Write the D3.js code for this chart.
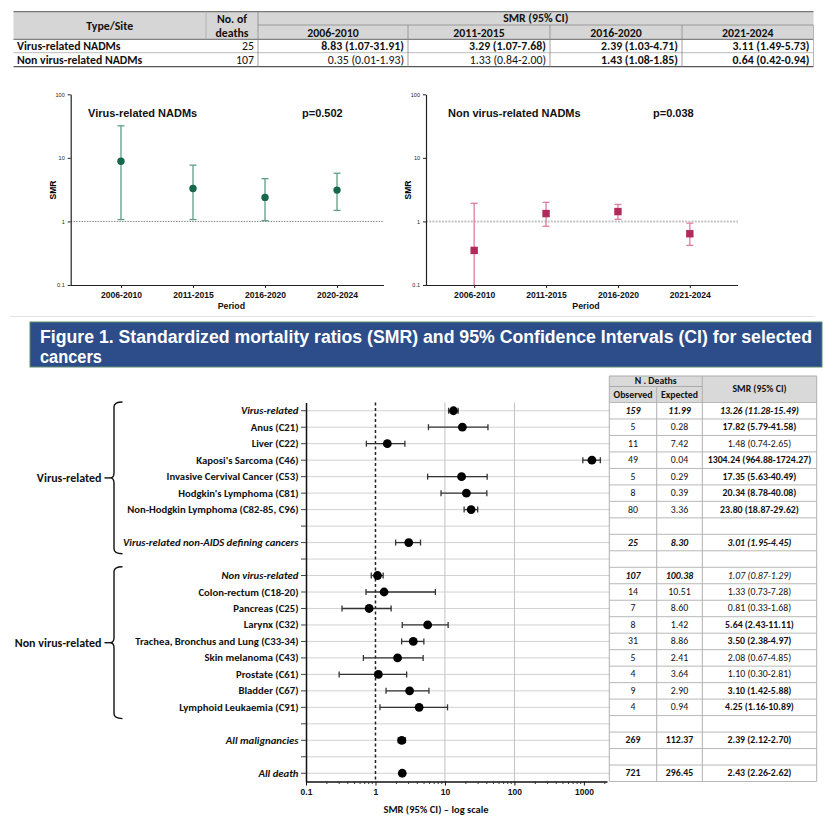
<!DOCTYPE html>
<html><head><meta charset="utf-8">
<script src="https://cdn.jsdelivr.net/npm/d3@7"></script>
<style>body{margin:0;background:#fff} svg{display:block}</style>
</head><body>
<svg id="c" width="840" height="820"></svg>
<script>
// ---------- DATA ----------
// Top table
const tablePeriods = ["2006-2010","2011-2015","2016-2020","2021-2024"];
const tableTypes = ["Virus-related NADMs","Non virus-related NADMs"];
const tableDeaths = [25, 107];
const tableSMRVirus = ["8.83 (1.07-31.91)","3.29 (1.07-7.68)","2.39 (1.03-4.71)","3.11 (1.49-5.73)"];
const tableSMRNonVirus = ["0.35 (0.01-1.93)","1.33 (0.84-2.00)","1.43 (1.08-1.85)","0.64 (0.42-0.94)"];
const tableBoldVirus = [true,true,true,true];
const tableBoldNonVirus = [false,false,true,true];

// Small chart: virus-related
const vrPeriods = ["2006-2010","2011-2015","2016-2020","2020-2024"];
const vrSMR = [8.83,3.29,2.39,3.11];
const vrLow = [1.07,1.07,1.03,1.49];
const vrHigh = [31.91,7.68,4.71,5.73];
// Small chart: non virus-related
const nvrPeriods = ["2006-2010","2011-2015","2016-2020","2021-2024"];
const nvrSMR = [0.35,1.33,1.43,0.64];
const nvrLow = [0.01,0.84,1.08,0.42];
const nvrHigh = [1.93,2.00,1.85,0.94];
const smallYTicks = [0.1,1,10,100];

// Forest plot
const forestLabels = ["Virus-related","Anus (C21)","Liver (C22)","Kaposi's Sarcoma (C46)","Invasive Cervival Cancer (C53)","Hodgkin's Lymphoma (C81)","Non-Hodgkin Lymphoma (C82-85, C96)","","Virus-related non-AIDS defining cancers","","Non virus-related","Colon-rectum (C18-20)","Pancreas (C25)","Larynx (C32)","Trachea, Bronchus and Lung (C33-34)","Skin melanoma (C43)","Prostate (C61)","Bladder (C67)","Lymphoid Leukaemia (C91)","","All malignancies","","All death"];
const forestItalic = [1,0,0,0,0,0,0,0,1,0,1,0,0,0,0,0,0,0,0,0,1,0,1];
const forestSMR  = [13.26,17.82,1.48,1304.24,17.35,20.34,23.80,null,3.01,null,1.07,1.33,0.81,5.64,3.50,2.08,1.10,3.10,4.25,null,2.39,null,2.43];
const forestLow  = [11.28,5.79,0.74,964.88,5.63,8.78,18.87,null,1.95,null,0.87,0.73,0.33,2.43,2.38,0.67,0.30,1.42,1.16,null,2.12,null,2.26];
const forestHigh = [15.49,41.58,2.65,1724.27,40.49,40.08,29.62,null,4.45,null,1.29,7.28,1.68,11.11,4.97,4.85,2.81,5.88,10.89,null,2.70,null,2.62];
const forestObserved = ["159","5","11","49","5","8","80","","25","","107","14","7","8","31","5","4","9","4","","269","","721"];
const forestExpected = ["11.99","0.28","7.42","0.04","0.29","0.39","3.36","","8.30","","100.38","10.51","8.60","1.42","8.86","2.41","3.64","2.90","0.94","","112.37","","296.45"];
const forestCI = ["13.26 (11.28-15.49)","17.82 (5.79-41.58)","1.48 (0.74-2.65)","1304.24 (964.88-1724.27)","17.35 (5.63-40.49)","20.34 (8.78-40.08)","23.80 (18.87-29.62)","","3.01 (1.95-4.45)","","1.07 (0.87-1.29)","1.33 (0.73-7.28)","0.81 (0.33-1.68)","5.64 (2.43-11.11)","3.50 (2.38-4.97)","2.08 (0.67-4.85)","1.10 (0.30-2.81)","3.10 (1.42-5.88)","4.25 (1.16-10.89)","","2.39 (2.12-2.70)","","2.43 (2.26-2.62)"];
// cell styles: "bi" bold italic, "b" bold, "i" italic, "n" normal
const forestCountStyle = ["bi","n","n","n","n","n","n","n","bi","n","bi","n","n","n","n","n","n","n","n","n","b","n","b"];
const forestSMRStyle   = ["bi","b","n","b","b","b","b","n","bi","n","i","n","n","b","b","n","n","b","b","n","b","n","b"];
const forestXTicks = [0.1,1,10,100,1000];
const groupNames = ["Virus-related","Non virus-related"];
const groupStart = [0,10];
const groupEnd = [8,18];

// ---------- DRAW ----------
const svg = d3.select("#c");
const CAL = "Carlito, Lato, 'Open Sans', sans-serif";
const ARI = "'Liberation Sans', Arial, sans-serif";
const NAR = "'Liberation Sans Narrow', 'Arial Narrow', 'Liberation Sans', Arial, sans-serif";

function line(g,x1,y1,x2,y2,stroke,w,dash){
  const l=g.append("line").attr("x1",x1).attr("y1",y1).attr("x2",x2).attr("y2",y2)
   .attr("stroke",stroke).attr("stroke-width",w);
  if(dash) l.attr("stroke-dasharray",dash);
  return l;
}
function txt(g,x,y,s,opt){
  opt=opt||{};
  return g.append("text").attr("x",x).attr("y",y).text(s)
   .attr("font-family",opt.family||CAL).attr("font-size",opt.size||10)
   .attr("font-weight",opt.bold?"bold":"normal")
   .attr("font-style",opt.italic?"italic":"normal")
   .attr("text-anchor",opt.anchor||"start")
   .attr("dominant-baseline","central")
   .attr("fill",opt.fill||"#111");
}

// ---- Top table ----
(function(){
  const g=svg.append("g");
  const tX=[13.5,206,258,408,550,682,813.5];
  const tY=[11.7,25,39.3,52.7,66.7];
  const fs=11.8;
  g.append("rect").attr("x",tX[0]).attr("y",tY[0]).attr("width",tX[6]-tX[0]).attr("height",tY[2]-tY[0]).attr("fill","#d6d6d6");
  line(g,tX[0],tY[0],tX[6],tY[0],"#777",1.2);
  line(g,tX[2],tY[1],tX[6],tY[1],"#8a8a8a",0.8);
  line(g,tX[0],tY[2],tX[6],tY[2],"#666",1);
  line(g,tX[0],tY[3],tX[6],tY[3],"#aaa",0.8);
  line(g,tX[0],tY[4],tX[6],tY[4],"#555",1.3);
  line(g,tX[1],tY[0],tX[1],tY[2],"#aaa",0.8);
  line(g,tX[2],tY[0],tX[2],tY[4],"#888",0.8);
  [3,4,5].forEach(i=>line(g,tX[i],tY[1],tX[i],tY[4],"#888",0.8));
  line(g,tX[6],tY[1],tX[6],tY[4],"#aaa",0.8);
  txt(g,(tX[0]+tX[1])/2,26,"Type/Site",{bold:true,size:fs,anchor:"middle"});
  txt(g,(tX[1]+tX[2])/2,19.3,"No. of",{bold:true,size:fs,anchor:"middle"});
  txt(g,(tX[1]+tX[2])/2,33,"deaths",{bold:true,size:fs,anchor:"middle"});
  txt(g,(tX[2]+tX[6])/2,18.3,"SMR (95% CI)",{bold:true,size:fs,anchor:"middle"});
  tablePeriods.forEach((p,i)=>txt(g,(tX[3+i-1]+tX[3+i])/2,32.5,p,{bold:true,size:fs,anchor:"middle"}));
  const rowsSMR=[tableSMRVirus,tableSMRNonVirus], rowsBold=[tableBoldVirus,tableBoldNonVirus];
  const rc=[46,59.7];
  tableTypes.forEach((t,r)=>{
    txt(g,17,rc[r],t,{bold:true,size:fs});
    txt(g,tX[2]-4,rc[r],String(tableDeaths[r]),{size:fs,anchor:"end"});
    rowsSMR[r].forEach((s,i)=>txt(g,tX[3+i]-4,rc[r],s,{size:fs,anchor:"end",bold:rowsBold[r][i]}));
  });
})();

// ---- Small charts ----
function smallChart(o){
  const g=svg.append("g");
  const y=d3.scaleLog().domain([0.1,100]).range([285,94.3]);
  const x=d3.scalePoint().domain(o.cats).range(o.xr).padding(o.pad);
  line(g,o.ax,y(1),o.axEnd,y(1),o.refColor,o.refW,o.refDash);
  const ya=g.append("g").attr("transform",`translate(${o.ax},0)`)
    .call(d3.axisLeft(y).tickValues(smallYTicks).tickFormat(d=>d).tickSize(3).tickSizeOuter(0));
  ya.selectAll("text").attr("font-size",5.5).attr("font-family",ARI).attr("fill","#222");
  ya.select(".domain").attr("stroke","#222").attr("stroke-width",1.2);
  ya.selectAll(".tick line").attr("stroke","#222");
  const xa=g.append("g").attr("transform",`translate(0,285)`)
    .call(d3.axisBottom(x).tickSize(3).tickSizeOuter(0));
  xa.select(".domain").attr("d",`M${o.ax},0.5H${o.axEnd}`).attr("stroke","#222").attr("stroke-width",1.2);
  xa.selectAll(".tick line").attr("stroke","#222");
  xa.selectAll("text").attr("font-size",8.6).attr("font-family",ARI).attr("font-weight","bold").attr("fill","#111").attr("dy","0.85em");
  txt(g,(o.ax+o.axEnd)/2+4,306,"Period",{family:ARI,bold:true,size:8.8,anchor:"middle"});
  g.append("text").attr("transform",`translate(${o.ax-18},190) rotate(-90)`).text("SMR")
    .attr("font-family",ARI).attr("font-size",8.5).attr("font-weight","bold").attr("text-anchor","middle").attr("dominant-baseline","central");
  txt(g,o.titleX,113,o.title,{family:ARI,bold:true,size:11});
  txt(g,o.pX,113,o.p,{family:ARI,bold:true,size:11});
  o.cats.forEach((c,i)=>{
    const cx=x(c);
    const lo=Math.max(o.lo[i],0.1), hi=o.hi[i];
    line(g,cx,y(lo),cx,y(hi),o.barColor,1.3);
    line(g,cx-3.5,y(hi),cx+3.5,y(hi),o.barColor,1.3);
    if(o.lo[i]>=0.1) line(g,cx-3.5,y(lo),cx+3.5,y(lo),o.barColor,1.3);
    if(o.marker==="circle") g.append("circle").attr("cx",cx).attr("cy",y(o.smr[i])).attr("r",3.7).attr("fill",o.color);
    else g.append("rect").attr("x",cx-3.7).attr("y",y(o.smr[i])-3.7).attr("width",7.4).attr("height",7.4).attr("fill",o.color);
  });
}
smallChart({cats:vrPeriods,smr:vrSMR,lo:vrLow,hi:vrHigh,ax:70.7,axEnd:384,xr:[72,386],pad:0.68,
  title:"Virus-related NADMs",titleX:88,p:"p=0.502",pX:302,color:"#15694a",barColor:"#5f9f80",marker:"circle",
  refColor:"#777",refW:0.9,refDash:"1.5,1.2"});
smallChart({cats:nvrPeriods,smr:nvrSMR,lo:nvrLow,hi:nvrHigh,ax:426,axEnd:738,xr:[426,738],pad:0.67,
  title:"Non virus-related NADMs",titleX:448,p:"p=0.038",pX:653,color:"#b02a5c",barColor:"#e27aa0",marker:"square",
  refColor:"#c4c4c4",refW:2,refDash:"2,1.2"});

// ---- separator & banner ----
line(svg,10,316.5,815,316.5,"#e2e2e2",1);
svg.append("rect").attr("x",30).attr("y",322).attr("width",792).attr("height",45)
  .attr("fill","#2d4d8a").attr("stroke","#5d8d70").attr("stroke-width",1);
svg.append("text").attr("x",40).attr("y",343).attr("font-family",NAR).attr("font-size",18).attr("font-weight","bold")
  .attr("fill","#fff").attr("textLength",772).attr("lengthAdjust","spacingAndGlyphs")
  .text("Figure 1. Standardized mortality ratios (SMR) and 95% Confidence Intervals (CI) for selected");
svg.append("text").attr("x",40).attr("y",362.5).attr("font-family",NAR).attr("font-size",18).attr("font-weight","bold")
  .attr("fill","#fff").attr("textLength",62).attr("lengthAdjust","spacingAndGlyphs").text("cancers");

// ---- Forest plot ----
(function(){
  const g=svg.append("g");
  const rows=d3.range(forestLabels.length);
  const y=d3.scaleBand().domain(rows).range([402.5,781.5]);
  const yc=i=>y(i)+y.bandwidth()/2;
  const x=d3.scaleLog().domain([0.1,2150]).range([306,607]);
  const top=402.5, bot=781.5, tL=[609.3,656.7,702.3,816.7];
  rows.forEach(i=>line(g,306,yc(i),tL[0],yc(i),"#d2d2d2",1));
  [10,100].forEach(v=>line(g,x(v),top,x(v),bot,"#c2c2c2",1));
  line(g,x(1),top,x(1),bot,"#222",1.5,"3,2.5");
  const ya=g.append("g").attr("transform","translate(306,0)")
    .call(d3.axisLeft(y).tickFormat("").tickSize(5).tickSizeOuter(0));
  ya.select(".domain").attr("stroke","#111").attr("stroke-width",1.5);
  ya.selectAll(".tick line").attr("stroke","#444");
  const xa=g.append("g").attr("transform",`translate(0,${bot})`)
    .call(d3.axisBottom(x).tickValues(forestXTicks).tickFormat(d=>d).tickSize(4).tickSizeOuter(0));
  xa.select(".domain").attr("stroke","#111").attr("stroke-width",1.5);
  xa.selectAll(".tick line").attr("stroke","#111");
  xa.selectAll("text").attr("font-family",ARI).attr("font-size",8.5).attr("font-weight","bold").attr("fill","#111");
  const minor=[];
  forestXTicks.forEach(d=>{for(let k=2;k<=9;k++){const v=d*k; if(v<2150) minor.push(v);}});
  xa.selectAll(".minor").data(minor).join("line").attr("class","minor")
    .attr("x1",d=>x(d)).attr("x2",d=>x(d)).attr("y1",0).attr("y2",2.5).attr("stroke","#333").attr("stroke-width",1);
  txt(g,436,809,"SMR (95% CI) \u2013 log scale",{bold:true,size:10.5,anchor:"middle"});
  rows.forEach(i=>{ if(forestLabels[i]) txt(g,298.5,yc(i),forestLabels[i],{bold:true,italic:!!forestItalic[i],size:10.7,anchor:"end"}); });
  rows.forEach(i=>{
    if(forestSMR[i]==null) return;
    const cy=yc(i);
    line(g,x(forestLow[i]),cy,x(forestHigh[i]),cy,"#333",1.3);
    line(g,x(forestLow[i]),cy-3,x(forestLow[i]),cy+3,"#333",1.3);
    line(g,x(forestHigh[i]),cy-3,x(forestHigh[i]),cy+3,"#333",1.3);
    g.append("circle").attr("cx",x(forestSMR[i])).attr("cy",cy).attr("r",4.4).attr("fill","#000");
  });
  groupNames.forEach((n,k)=>{
    const y0=y(groupStart[k])-0.5, y1=y(groupEnd[k])+y.bandwidth()+3, ym=(y0+y1)/2;
    const xb=114, xr=122.5;
    const p=`M${xr},${y0} Q${xb},${y0} ${xb},${y0+5} L${xb},${ym-5} Q${xb},${ym} ${xb-4},${ym} Q${xb},${ym} ${xb},${ym+5} L${xb},${y1-5} Q${xb},${y1} ${xr},${y1}`;
    g.append("path").attr("d",p).attr("fill","none").attr("stroke","#111").attr("stroke-width",1.4);
    line(g,104.5,ym,xb-4,ym,"#111",1.4);
    txt(g,101.5,ym,n,{bold:true,size:12,anchor:"end"});
  });
  g.append("rect").attr("x",tL[0]).attr("y",376).attr("width",tL[3]-tL[0]).attr("height",top-376).attr("fill","#d9d9d9");
  line(g,tL[0],376,tL[3],376,"#aaa",1);
  line(g,tL[0],386.5,tL[2],386.5,"#aaa",1);
  rows.forEach(i=>line(g,tL[0],y(i),tL[3],y(i),"#b8b8b8",1));
  line(g,tL[0],bot,tL[3],bot,"#b8b8b8",1);
  line(g,tL[0],376,tL[0],bot,"#b0b0b0",1);
  line(g,tL[1],386.5,tL[1],bot,"#b0b0b0",1);
  line(g,tL[2],376,tL[2],bot,"#b0b0b0",1);
  line(g,tL[3],376,tL[3],bot,"#b0b0b0",1);
  const fs=9.8;
  txt(g,(tL[0]+tL[2])/2,381.3,"N . Deaths",{bold:true,size:fs,anchor:"middle"});
  txt(g,(tL[0]+tL[1])/2,394.5,"Observed",{bold:true,size:fs,anchor:"middle"});
  txt(g,(tL[1]+tL[2])/2,394.5,"Expected",{bold:true,size:fs,anchor:"middle"});
  txt(g,(tL[2]+tL[3])/2,388.5,"SMR (95% CI)",{bold:true,size:fs,anchor:"middle"});
  const st=s=>({bold:s.includes("b"),italic:s.includes("i")});
  rows.forEach(i=>{
    const cy=yc(i), a=st(forestCountStyle[i]), b=st(forestSMRStyle[i]);
    if(forestObserved[i]) txt(g,(tL[0]+tL[1])/2,cy,forestObserved[i],{size:fs,anchor:"middle",bold:a.bold,italic:a.italic});
    if(forestExpected[i]) txt(g,(tL[1]+tL[2])/2,cy,forestExpected[i],{size:fs,anchor:"middle",bold:a.bold,italic:a.italic});
    if(forestCI[i]) txt(g,(tL[2]+tL[3])/2,cy,forestCI[i],{size:fs,anchor:"middle",bold:b.bold,italic:b.italic});
  });
})();
</script>
</body></html>
